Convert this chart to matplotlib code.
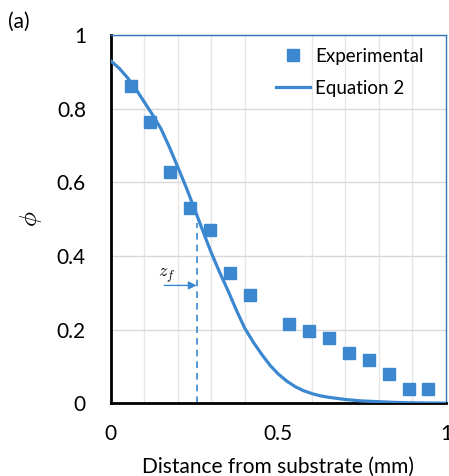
import matplotlib
matplotlib.use("Agg")
import matplotlib.pyplot as plt

# experimental points
exp_x = [0.059, 0.118, 0.177, 0.237, 0.296, 0.356, 0.415,
         0.533, 0.592, 0.652, 0.710, 0.770, 0.830, 0.889, 0.948]
exp_phi = [0.863, 0.764, 0.628, 0.530, 0.471, 0.353, 0.294,
           0.215, 0.196, 0.176, 0.137, 0.117, 0.078, 0.039, 0.039]

# Equation 2 curve
eq_x = [0.0, 0.025, 0.05, 0.075, 0.1, 0.125, 0.15, 0.175, 0.2, 0.225, 0.25,
        0.275, 0.3, 0.325, 0.35, 0.375, 0.4, 0.425, 0.45, 0.475, 0.5,
        0.525, 0.55, 0.575, 0.6, 0.625, 0.65, 0.7, 0.75, 0.8, 0.85, 0.9, 0.95, 1.0]
eq_phi = [0.930, 0.910, 0.884, 0.853, 0.818, 0.783, 0.745, 0.695, 0.641, 0.586, 0.527,
          0.467, 0.408, 0.355, 0.305, 0.252, 0.203, 0.166, 0.133, 0.103, 0.079,
          0.060, 0.045, 0.034, 0.026, 0.020, 0.016, 0.010, 0.006, 0.004, 0.002, 0.001, 0.0005, 0.0]

z_f = 0.256
z_f_top = 0.489
arrow_y = 0.32
arrow_start = 0.159

blue = '#3b88d1'
plt.rcParams['font.family'] = ['Lato', 'DejaVu Sans']
plt.rcParams['mathtext.fontset'] = 'cm'

fig = plt.figure(figsize=(4.49, 4.76), dpi=100)
ax = fig.add_axes([0.247, 0.153, 0.746, 0.773])

ax.plot(eq_x, eq_phi, color=blue, lw=2.3, label='Equation 2', zorder=3)
ax.plot(exp_x, exp_phi, ls='none', marker='s', ms=8, color=blue,
        label='Experimental', zorder=4)

# z_f marker
ax.plot([z_f, z_f], [0, z_f_top], color=blue, lw=1.2, ls=(0, (4, 3)), zorder=2)
ax.annotate('', xy=(z_f, arrow_y), xytext=(arrow_start, arrow_y),
            arrowprops=dict(arrowstyle='-|>', color=blue, lw=1.0,
                            mutation_scale=12, shrinkA=0, shrinkB=0))
ax.text(0.166, 0.345, r'$z_f$', fontsize=13, ha='center', va='center')

ax.set_xlim(0, 1)
ax.set_ylim(0, 1)
ax.set_xticks([0, 0.5, 1])
ax.set_xticklabels(['0', '0.5', '1'])
ax.set_yticks([0, 0.2, 0.4, 0.6, 0.8, 1])
ax.set_yticklabels(['0', '0.2', '0.4', '0.6', '0.8', '1'])
ax.set_xticks([i / 10 for i in range(11)], minor=True)
ax.grid(True, which='major', axis='y', color='#d9d9d9', lw=1)
ax.grid(True, which='minor', axis='x', color='#e6e6e6', lw=1)
ax.set_axisbelow(True)
ax.tick_params(which='both', length=0, labelsize=15)
ax.tick_params(axis='x', pad=15)
ax.tick_params(axis='y', pad=18)

for s in ['left', 'bottom']:
    ax.spines[s].set_color('black')
    ax.spines[s].set_linewidth(2)
for s in ['top', 'right']:
    ax.spines[s].set_color('#2e75b6')
    ax.spines[s].set_linewidth(1)

ax.set_xlabel('Distance from substrate (mm)', fontsize=15, labelpad=9)
ax.set_ylabel(r'$\phi$', fontsize=18, labelpad=9)

handles, labels = ax.get_legend_handles_labels()
ax.legend(handles[::-1], labels[::-1], loc='upper left', frameon=False,
          bbox_to_anchor=(276 / 449, 1 - 48 / 476), bbox_transform=fig.transFigure,
          fontsize=13.5, handlelength=1.8, handletextpad=0.3, labelspacing=0.8,
          borderpad=0, borderaxespad=0)

fig.text(8 / 449, 1 - 22 / 476, '(a)', fontsize=15, va='center', ha='left')

fig.savefig('out.png', dpi=100)
